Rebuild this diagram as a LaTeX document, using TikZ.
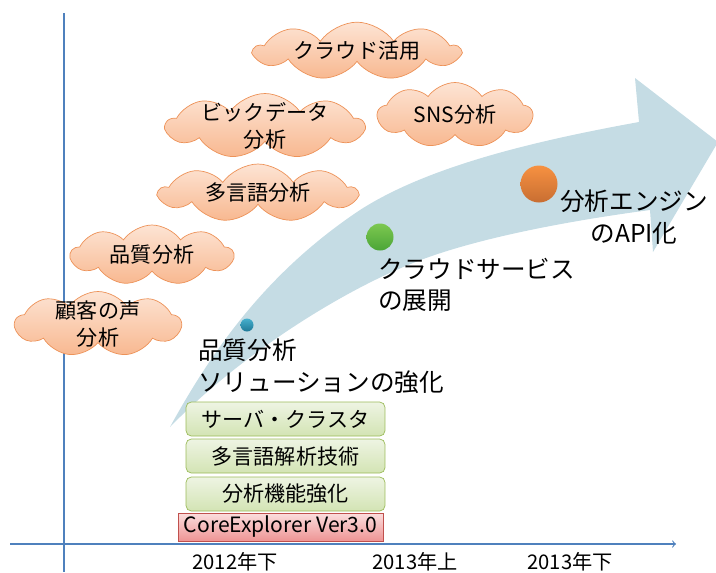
\documentclass[tikz,border=0pt]{standalone}
\usepackage{fontspec}
\setmainfont{Noto Sans CJK JP}
\usetikzlibrary{shapes,arrows,positioning}

\definecolor{axisblue}{RGB}{79,129,189}
\definecolor{arrowblue}{RGB}{197,220,228}
\definecolor{cloudtop}{RGB}{253,228,212}
\definecolor{cloudbot}{RGB}{248,184,144}
\definecolor{cloudline}{RGB}{237,146,88}
\definecolor{greentop}{RGB}{238,244,227}
\definecolor{greenbot}{RGB}{211,228,180}
\definecolor{greenline}{RGB}{155,187,89}
\definecolor{redtop}{RGB}{251,222,222}
\definecolor{redbot}{RGB}{238,148,148}
\definecolor{redline}{RGB}{192,80,77}
\definecolor{tealtop}{RGB}{70,175,205}
\definecolor{tealbot}{RGB}{30,120,150}
\definecolor{limetop}{RGB}{125,200,80}
\definecolor{limebot}{RGB}{75,165,55}
\definecolor{orangetop}{RGB}{247,145,65}
\definecolor{orangebot}{RGB}{200,110,50}

\begin{document}
\begin{tikzpicture}[x=0.02cm,y=-0.02cm,
	cloudnode/.style={cloud, cloud puffs=9, cloud puff arc=110, cloud ignores aspect, draw=cloudline, top color=cloudtop, bottom color=cloudbot, align=center, inner sep=0pt, font=\fontsize{12}{15}\selectfont},
	twoline/.style={inner ysep=-7pt, inner xsep=-6pt},
	greenbox/.style={rectangle, rounded corners=3pt, draw=greenline, top color=greentop, bottom color=greenbot, minimum width=3.98cm, minimum height=0.68cm, inner sep=0pt, font=\fontsize{12}{14}\selectfont},
	redbox/.style={rectangle, draw=redline, top color=redtop, bottom color=redbot, minimum width=4.1cm, minimum height=0.56cm, inner sep=0pt, font=\fontsize{12}{14}\selectfont},
	bigtext/.style={inner sep=0pt, align=left, font=\fontsize{14}{18}\selectfont},
	dot/.style={circle, inner sep=0pt},
	yearlabel/.style={inner sep=0pt, font=\fontsize{11.5}{14}\selectfont},
	axisline/.style={draw=axisblue, line width=0.6pt}]
	\clip (0,0) rectangle (716,572);
	
	% axes
	\coordinate (ytop) at (64,13);
	\coordinate (ybot) at (64,572);
	\coordinate (xleft) at (10,544);
	\coordinate (xright) at (676,544);
	\draw[axisline] (ytop) -- (ybot);
	\draw[axisline,-to] (xleft) -- (xright);
	
	% big arrow
	\fill[arrowblue] (170,427) .. controls (215,345) and (270,270) .. (360,210)
		.. controls (430,165) and (540,140) .. (639,122) -- (635,78) -- (718,142)
		-- (653,252) -- (650,210) .. controls (560,222) and (470,240) .. (413,263)
		.. controls (340,292) and (240,355) .. (170,427) -- cycle;
	
	% clouds
	\node[cloudnode, minimum width=4.1cm, minimum height=1.1cm] (cloudapp) at (357,51) {クラウド活用};
	\node[cloudnode, minimum width=3.1cm, minimum height=1.3cm] (sns) at (455,115) {SNS分析};
	\node[cloudnode, twoline, minimum width=3.95cm, minimum height=1.3cm] (bigdata) at (265,126) {ビックデータ\\分析};
	\node[cloudnode, minimum width=3.95cm, minimum height=1.16cm] (multilang) at (258,193) {多言語分析};
	\node[cloudnode, minimum width=3.25cm, minimum height=1.2cm] (quality) at (152,255) {品質分析};
	\node[cloudnode, twoline, minimum width=3.32cm, minimum height=1.3cm] (voice) at (98,324) {顧客の声\\分析};
	
	% milestones
	\node[dot, minimum size=0.26cm, top color=tealtop, bottom color=tealbot] (d1) at (247,325) {};
	\node[dot, minimum size=0.54cm, top color=limetop, bottom color=limebot] (d2) at (380,237) {};
	\node[dot, minimum size=0.74cm, top color=orangetop, bottom color=orangebot] (d3) at (539,184) {};
	\node[bigtext, anchor=west] (qsol) at (198,366) {品質分析\\ソリューションの強化};
	\node[bigtext, anchor=west] (csvc) at (378,285) {クラウドサービス\\の展開};
	\node[bigtext, align=center] (api) at (634,217) {分析エンジン\\のAPI化};
	
	% stack
	\node[greenbox] (server) at (285.5,419) {サーバ・クラスタ};
	\node[greenbox] (analysis) at (285.5,456) {多言語解析技術};
	\node[greenbox] (func) at (285.5,494) {分析機能強化};
	\node[redbox] (core) at (280.5,527) {CoreExplorer Ver3.0};
	
	% years
	\node[yearlabel] (y1) at (235,562) {2012年下};
	\node[yearlabel] (y2) at (415,562) {2013年上};
	\node[yearlabel] (y3) at (570,562) {2013年下};
\end{tikzpicture}
\end{document}
